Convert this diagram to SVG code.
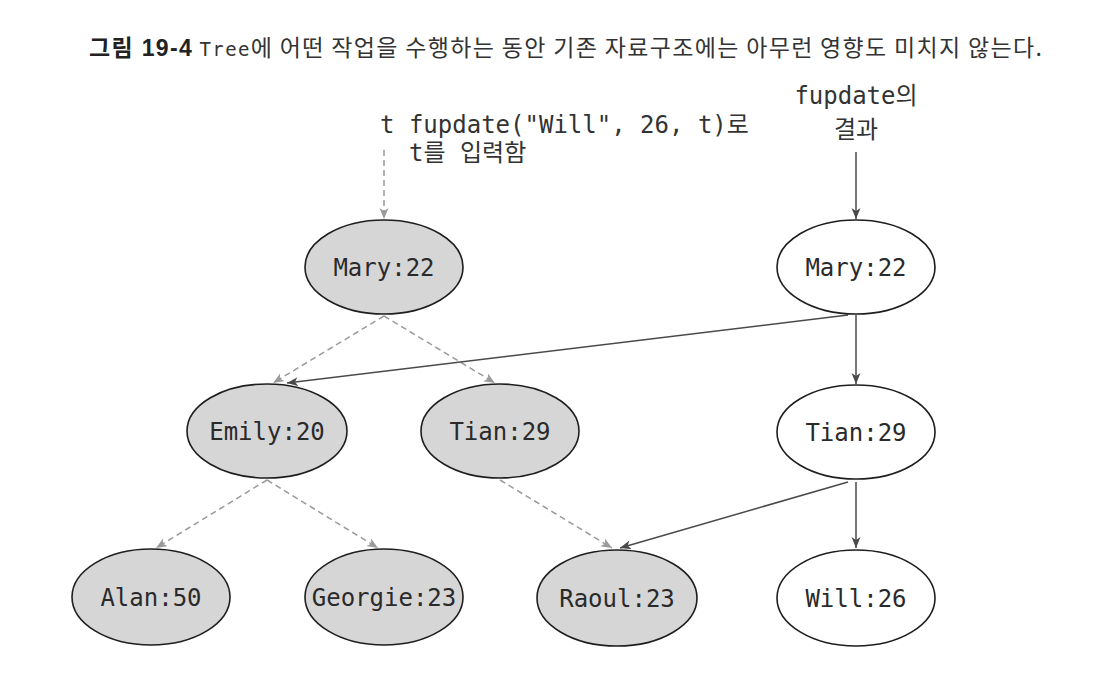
<svg xmlns="http://www.w3.org/2000/svg" width="1112" height="688" viewBox="0 0 1112 688">
<style>
.title{font-family:"Noto Sans CJK KR","Liberation Sans",sans-serif;font-size:23px;fill:#333}
.tb{font-family:"Liberation Sans","Noto Sans CJK KR",sans-serif;font-weight:bold;fill:#222}
.tm{font-family:"DejaVu Sans Mono","Noto Sans CJK KR",monospace;font-size:19px}
.lbl{font-family:"DejaVu Sans Mono","Noto Sans CJK KR",monospace;font-size:24px;fill:#333}
.node ellipse{stroke:#1e1e1e;stroke-width:1.6}
.old ellipse{fill:#d6d6d6}
.new ellipse{fill:#ffffff}
.node text{font-family:"DejaVu Sans Mono","Liberation Mono",monospace;font-size:24px;fill:#2a2a2a;text-anchor:middle}
.dash{stroke:#9a9a9a;stroke-width:1.5;stroke-dasharray:6 4;fill:none}
.solid{stroke:#4a4a4a;stroke-width:1.5;fill:none}
</style>
<defs>
<marker id="ag" markerUnits="userSpaceOnUse" markerWidth="12" markerHeight="10" refX="11" refY="4.5" orient="auto">
<path d="M0,0 L11,4.5 L0,9 L3,4.5 z" fill="#9a9a9a"/>
</marker>
<marker id="ad" markerUnits="userSpaceOnUse" markerWidth="12" markerHeight="10" refX="11" refY="4.5" orient="auto">
<path d="M0,0 L11,4.5 L0,9 L3,4.5 z" fill="#4a4a4a"/>
</marker>
</defs>
<rect width="1112" height="688" fill="#ffffff"/>
<g id="title">
<text class="title" x="89" y="56" textLength="953"><tspan class="tb">그림 19-4</tspan> <tspan class="tm">Tree</tspan>에 어떤 작업을 수행하는 동안 기존 자료구조에는 아무런 영향도 미치지 않는다.</text>
</g>
<g id="labels">
<text class="lbl" x="380" y="133">t fupdate("Will", 26, t)로</text>
<text class="lbl" x="409" y="161">t를 입력함</text>
<text class="lbl" x="856" y="104" text-anchor="middle">fupdate의</text>
<text class="lbl" x="856" y="138" text-anchor="middle">결과</text>
</g>
<g id="connectors">
<line class="dash" x1="384" y1="150" x2="384" y2="219" marker-end="url(#ag)"/>
<line class="solid" x1="856" y1="152" x2="856" y2="219" marker-end="url(#ad)"/>
<line class="dash" x1="384" y1="316" x2="273" y2="383" marker-end="url(#ag)"/>
<line class="dash" x1="384" y1="316" x2="495" y2="383" marker-end="url(#ag)"/>
<line class="solid" x1="848" y1="315" x2="287" y2="383" marker-end="url(#ad)"/>
<line class="solid" x1="856" y1="315" x2="856" y2="384" marker-end="url(#ad)"/>
<line class="dash" x1="267" y1="480" x2="156" y2="548" marker-end="url(#ag)"/>
<line class="dash" x1="267" y1="480" x2="378" y2="548" marker-end="url(#ag)"/>
<line class="dash" x1="500" y1="480" x2="612" y2="548" marker-end="url(#ag)"/>
<line class="solid" x1="848" y1="482" x2="620" y2="548" marker-end="url(#ad)"/>
<line class="solid" x1="856" y1="482" x2="856" y2="548" marker-end="url(#ad)"/>
</g>
<g id="mary-old" class="node old"><ellipse cx="384" cy="267" rx="79" ry="47"/><text x="384" y="276">Mary:22</text></g>
<g id="emily" class="node old"><ellipse cx="267" cy="431" rx="80" ry="47"/><text x="267" y="440">Emily:20</text></g>
<g id="tian-old" class="node old"><ellipse cx="500" cy="431" rx="79" ry="47"/><text x="500" y="440">Tian:29</text></g>
<g id="alan" class="node old"><ellipse cx="151" cy="597" rx="79" ry="48"/><text x="151" y="606">Alan:50</text></g>
<g id="georgie" class="node old"><ellipse cx="384" cy="597" rx="79" ry="48"/><text x="384" y="606">Georgie:23</text></g>
<g id="raoul" class="node old"><ellipse cx="617" cy="598" rx="80" ry="48"/><text x="617" y="607">Raoul:23</text></g>
<g id="mary-new" class="node new"><ellipse cx="856" cy="267" rx="79" ry="47"/><text x="856" y="276">Mary:22</text></g>
<g id="tian-new" class="node new"><ellipse cx="856" cy="432" rx="79" ry="47"/><text x="856" y="441">Tian:29</text></g>
<g id="will" class="node new"><ellipse cx="856" cy="598" rx="79" ry="48"/><text x="856" y="607">Will:26</text></g>
</svg>
